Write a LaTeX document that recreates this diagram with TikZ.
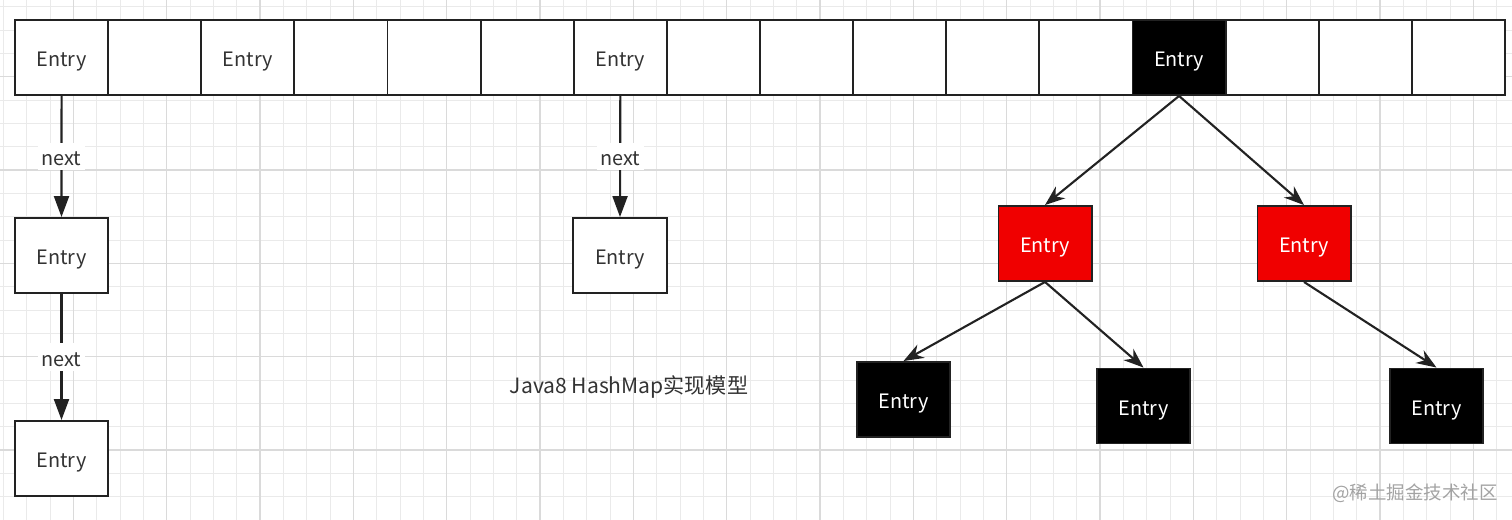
\documentclass[tikz,border=0pt]{standalone}
\usepackage{fontspec}
\setmainfont{Noto Sans CJK SC}
\usetikzlibrary{arrows.meta, positioning}
\definecolor{gridmin}{HTML}{EAEAEA}
\definecolor{gridmaj}{HTML}{DADADA}
\definecolor{edge}{HTML}{222222}
\definecolor{txt}{HTML}{333333}
\definecolor{treered}{HTML}{F00000}
\definecolor{wmgrey}{HTML}{A3A3A3}

\begin{document}
\begin{tikzpicture}[x=0.02cm, y=-0.02cm, >=Stealth]
    \tikzset{
      cell/.style={draw=edge, line width=1.1pt, fill=white, text=txt, minimum width=1.862cm, minimum height=1.5cm, inner sep=0pt, text height=11pt, text depth=0.5pt, font=\fontsize{11.3}{13}\selectfont},
      blk/.style={cell, fill=black, text=white},
      redbox/.style={cell, fill=treered, text=white},
      arr/.style={-{Stealth[length=0.4cm, width=0.3cm]}, line width=1.2pt, draw=edge},
      nxt/.style={-{Triangle[length=0.42cm, width=0.3cm]}, line width=1.2pt, draw=edge},
      lbl/.style={fill=white, text=txt, inner sep=2pt, text height=11pt, text depth=0.5pt, font=\fontsize{11.3}{13}\selectfont}
    }

    % paper grid
    \fill[white] (0,0) rectangle (1512,520);
    \useasboundingbox (0,0) rectangle (1512,520);
    \foreach \k in {0,...,64}
      \draw[gridmin, line width=0.5pt] ({3.33+23.333*\k},0) -- ++(0,520);
    \foreach \k in {0,...,22}
      \draw[gridmin, line width=0.5pt] (0,{6.67+23.333*\k}) -- ++(1512,0);
    \foreach \k in {0,...,15}
      \draw[gridmaj, line width=0.6pt] ({73.33+93.333*\k},0) -- ++(0,520);
    \foreach \k in {0,...,4}
      \draw[gridmaj, line width=0.6pt] (0,{76.67+93.333*\k}) -- ++(1512,0);

    % bucket array
    \foreach \i/\t/\s in {0/Entry/cell, 1//cell, 2/Entry/cell, 3//cell, 4//cell, 5//cell, 6/Entry/cell, 7//cell,
                          8//cell, 9//cell, 10//cell, 11//cell, 12/Entry/blk, 13//cell, 14//cell, 15//cell}
      \node[\s] (c\i) at ({61.56+93.125*\i},57.5) {\t};

    % linked lists
    \node[cell] (e1) at (61.5,255.5) {Entry};
    \node[cell] (e2) at (61.5,458.5) {Entry};
    \node[cell] (e3) at (620,255.5) {Entry};

    \draw[nxt] (c0.south) -- node[lbl] {next} (e1.north);
    \draw[nxt] (e1.south) -- node[lbl] {next} (e2.north);
    \draw[nxt] (c6.south) -- node[lbl] {next} (e3.north);

    % red-black tree
    \node[redbox] (r1) at (1045,243.5) {Entry};
    \node[redbox] (r2) at (1304,243.5) {Entry};
    \node[blk] (b1) at (903.5,399.5) {Entry};
    \node[blk] (b2) at (1143.5,406) {Entry};
    \node[blk] (b3) at (1436.5,406) {Entry};

    \draw[arr] (c12.south) -- (r1.north);
    \draw[arr] (c12.south) -- (r2.north);
    \draw[arr] (r1.south) -- (b1.north);
    \draw[arr] (r1.south) -- (b2.north);
    \draw[arr] (r2.south) -- (b3.north);

    \node[text=txt, font=\fontsize{12}{14}\selectfont] (cap) at (629,387) {Java8 HashMap实现模型};
    \node[text=wmgrey, font=\fontsize{10.5}{12}\selectfont] (wm) at (1415,493) {@稀土掘金技术社区};
\end{tikzpicture}
\end{document}
